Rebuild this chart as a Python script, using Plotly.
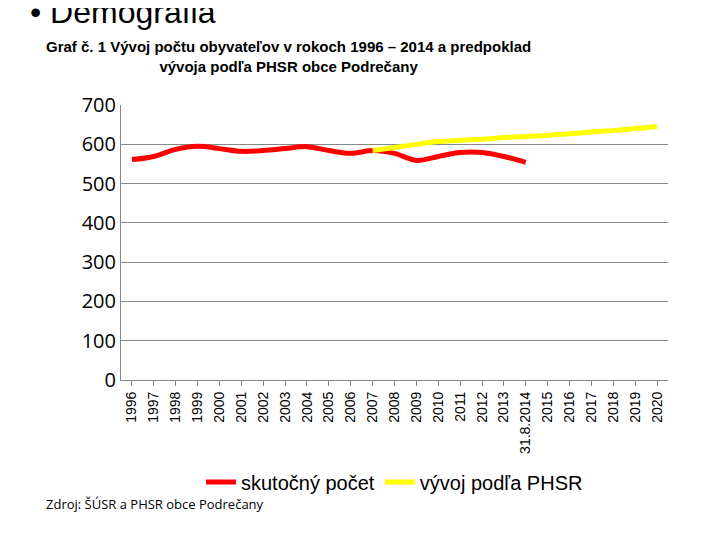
import plotly.graph_objects as go

roky = [str(r) for r in range(1996, 2014)] + ["31.8.2014"] + [str(r) for r in range(2015, 2021)]
skutocny = [561, 569, 587, 595, 589, 582, 584, 589, 594, 584, 577, 584, 577, 559, 569, 579, 579, 569, 554]
phsr_roky = roky[11:]
phsr = [584, 592, 600, 607, 610, 613, 617, 620, 623, 627, 631, 635, 640, 645]

fig = go.Figure()
fig.add_trace(go.Scatter(x=roky[:len(skutocny)], y=skutocny, mode="lines", name="skutočný počet",
                         line=dict(color="#ff0000", width=5, shape="spline")))
fig.add_trace(go.Scatter(x=phsr_roky, y=phsr, mode="lines", name="vývoj podľa PHSR",
                         line=dict(color="#ffff00", width=5, shape="spline")))

fig.update_layout(
    width=720, height=540, plot_bgcolor="white", paper_bgcolor="white",
    margin=dict(l=113, r=60, t=97, b=168),
    font=dict(family="Liberation Sans, Arial", color="black"),
    xaxis=dict(categoryorder="array", categoryarray=roky, tickangle=-90,
               tickfont=dict(size=14), showgrid=False, showline=True, linecolor="#888",
               ticks="outside", tickcolor="#888", range=[-0.5, 24.5]),
    yaxis=dict(range=[0, 700], dtick=100, tickfont=dict(size=20, family="Open Sans"), showgrid=True,
               gridcolor="#888", showline=True, linecolor="#888", zeroline=False),
    legend=dict(orientation="h", x=0.5, xanchor="center", y=-0.3, yanchor="top",
                font=dict(size=20)),
    showlegend=True,
)
fig.add_annotation(text="• Demografia", xref="paper", yref="paper", x=-0.17, y=1.41,
                   xanchor="left", showarrow=False, font=dict(size=32))
fig.add_annotation(text="<b>Graf č. 1 Vývoj počtu obyvateľov v rokoch 1996 – 2014 a predpoklad<br>vývoja podľa PHSR obce Podrečany</b>",
                   xref="paper", yref="paper", x=-0.14, y=1.25, xanchor="left", align="center",
                   showarrow=False, font=dict(size=15))
fig.add_annotation(text="Zdroj: ŠÚSR a PHSR obce Podrečany", xref="paper", yref="paper",
                   x=-0.14, y=-0.49, xanchor="left", showarrow=False,
                   font=dict(size=13, family="Open Sans"))
fig.write_html("out.html")
